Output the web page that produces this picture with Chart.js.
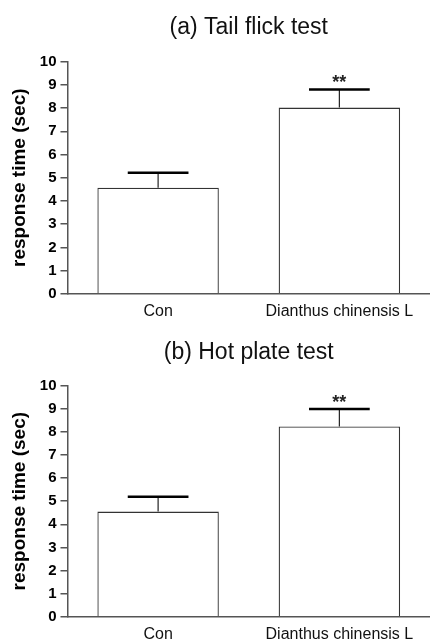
<!DOCTYPE html>
<html>
<head>
<meta charset="utf-8">
<script src="https://cdn.jsdelivr.net/npm/chart.js@4.4.1/dist/chart.umd.min.js"></script>
<style>
  html, body { margin: 0; padding: 0; background: #fff; }
  .box { position: relative; width: 430px; }
  #b1 { height: 320px; }
  #b2 { height: 321px; }
</style>
</head>
<body>
<div class="box" id="b1"><canvas id="c1"></canvas></div>
<div class="box" id="b2"><canvas id="c2"></canvas></div>
<script>
// ---- data ----
const categories = ['Con', 'Dianthus chinensis L'];
const yTicks = [0, 1, 2, 3, 4, 5, 6, 7, 8, 9, 10];
const tailFlickMean = [4.57, 8.02];
const tailFlickSEM = [0.64, 0.78];
const hotPlateMean = [4.55, 8.23];
const hotPlateSEM = [0.64, 0.76];
const significance = ['', '**'];
const titles = ['(a) Tail flick test', '(b) Hot plate test'];
const yTitle = 'response time (sec)';

const FONT = "'Liberation Sans', Arial, Helvetica, sans-serif";

const errorBarPlugin = {
  id: 'errorBars',
  afterDatasetsDraw(chart) {
    const ctx = chart.ctx;
    const ys = chart.scales.y;
    const meta = chart.getDatasetMeta(0);
    const ds = chart.data.datasets[0];
    meta.data.forEach((bar, i) => {
      const top = ds.data[i] + ds.errors[i];
      const yTop = ys.getPixelForValue(top);
      const yBar = ys.getPixelForValue(ds.data[i]);
      const half = bar.width / 4;
      ctx.save();
      ctx.strokeStyle = '#222';
      ctx.lineWidth = 1.2;
      ctx.beginPath();
      ctx.moveTo(bar.x, yBar);
      ctx.lineTo(bar.x, yTop);
      ctx.stroke();
      ctx.lineWidth = 2.4;
      ctx.strokeStyle = '#000';
      ctx.beginPath();
      ctx.moveTo(bar.x - half, yTop);
      ctx.lineTo(bar.x + half, yTop);
      ctx.stroke();
      if (ds.sig[i]) {
        ctx.fillStyle = '#222';
        ctx.font = 'bold 18px ' + FONT;
        ctx.textAlign = 'center';
        ctx.textBaseline = 'alphabetic';
        ctx.fillText(ds.sig[i], bar.x, yTop - 1);
      }
      ctx.restore();
    });
  }
};

function makeChart(id, title, means, errs, titlePad, bottomPad) {
  return new Chart(document.getElementById(id), {
    type: 'bar',
    data: {
      labels: categories,
      datasets: [{
        data: means,
        errors: errs,
        sig: significance,
        backgroundColor: '#fff',
        borderColor: '#333',
        borderWidth: 1.3,
        categoryPercentage: 1.0,
        barPercentage: 0.67
      }]
    },
    options: {
      responsive: true,
      maintainAspectRatio: false,
      animation: false,
      layout: { padding: { left: 8, right: 0, top: 0, bottom: bottomPad } },
      plugins: {
        legend: { display: false },
        tooltip: { enabled: false },
        title: {
          display: true,
          text: title,
          fullSize: false,
          color: '#111',
          font: { family: FONT, size: 23, weight: 'normal' },
          padding: titlePad
        }
      },
      scales: {
        x: {
          offset: true,
          grid: { display: false, drawTicks: false },
          border: { display: true, color: '#555', width: 1.5 },
          ticks: { color: '#111', font: { family: FONT, size: 16 }, padding: 8 }
        },
        y: {
          min: 0, max: 10,
          afterBuildTicks(scale) { scale.ticks = yTicks.map(v => ({ value: v })); },
          grid: { drawOnChartArea: false, drawTicks: true, tickLength: 7, color: '#555', lineWidth: 1.5 },
          border: { display: true, color: '#555', width: 1.5 },
          ticks: { color: '#000', font: { family: FONT, size: 15, weight: 'bold' }, padding: 4 },
          title: {
            display: true,
            text: yTitle,
            color: '#000',
            font: { family: FONT, size: 19, weight: 'bold' },
            padding: { top: 0, bottom: 5 }
          }
        }
      }
    },
    plugins: [errorBarPlugin]
  });
}

makeChart('c1', titles[0], tailFlickMean, tailFlickSEM, { top: 14, bottom: 20 }, -9);
makeChart('c2', titles[1], hotPlateMean, hotPlateSEM, { top: 19, bottom: 19 }, -11);
</script>
</body>
</html>
